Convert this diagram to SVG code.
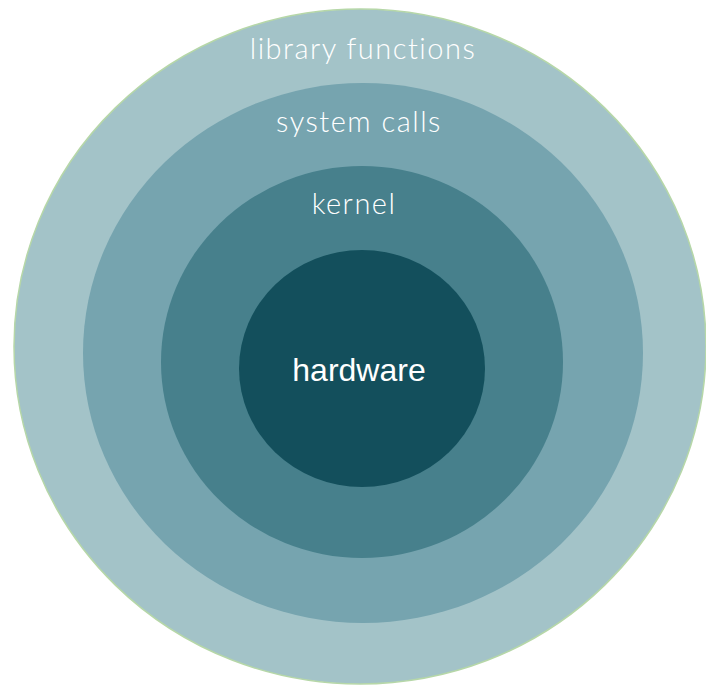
<svg xmlns="http://www.w3.org/2000/svg" width="706" height="686" viewBox="0 0 706 686">
  <style>
    .label { fill: #ffffff; text-anchor: middle; font-family: Lato, "Open Sans", "Liberation Sans", sans-serif; font-weight: 300; font-size: 29px; letter-spacing: 1.5px; }
    .core { fill: #ffffff; text-anchor: middle; font-family: "Liberation Sans", Arial, sans-serif; font-size: 32px; }
  </style>
  <rect width="706" height="686" fill="#ffffff"/>
  <g id="library-functions">
    <ellipse cx="360" cy="346.5" rx="346" ry="337.5" fill="#a3c3c8" stroke="#b6d7a8" stroke-width="1.5"/>
    <text class="label" x="363" y="59">library functions</text>
  </g>
  <g id="system-calls">
    <ellipse cx="363" cy="353" rx="280" ry="270" fill="#76a4af"/>
    <text class="label" x="359" y="132">system calls</text>
  </g>
  <g id="kernel">
    <ellipse cx="362" cy="362" rx="201" ry="196" fill="#47808c"/>
    <text class="label" x="354" y="214">kernel</text>
  </g>
  <g id="hardware">
    <ellipse cx="362" cy="368.5" rx="123" ry="118.5" fill="#134f5c"/>
    <text class="core" x="359" y="381">hardware</text>
  </g>
</svg>
